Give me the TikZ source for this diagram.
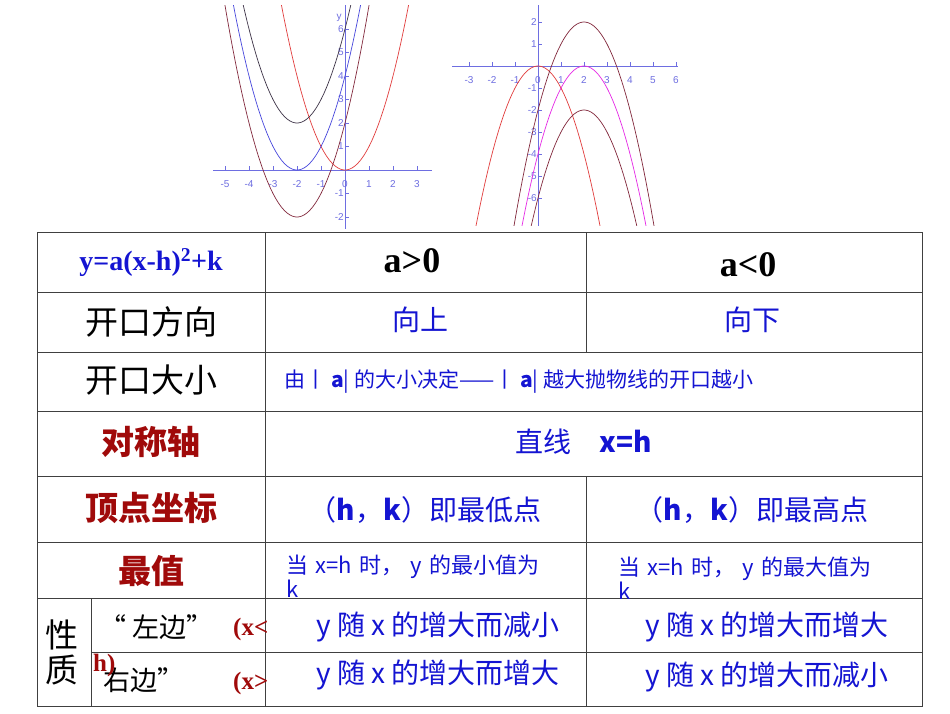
\documentclass[tikz,border=0pt]{standalone}
\usepackage{fontspec}
\setmainfont{Liberation Serif}
\setsansfont{Liberation Sans}
\newfontfamily\cjk{Noto Sans CJK SC}
\definecolor{tb}{RGB}{20,20,210}
\definecolor{dr}{RGB}{160,10,10}
\definecolor{axb}{RGB}{110,110,225}
\definecolor{cr}{RGB}{225,60,60}
\definecolor{cbr}{RGB}{130,40,60}
\definecolor{cbl}{RGB}{70,70,220}
\definecolor{cgr}{RGB}{60,50,70}
\definecolor{cmg}{RGB}{230,40,230}
\tikzset{
 lab/.style={font=\sffamily\fontsize{10}{10}\selectfont,text=axb,inner sep=1pt},
 grid line/.style={draw=black!75,line width=0.8pt},
 blk/.style={font=\cjk\fontsize{33}{35}\selectfont,text=black},
 red/.style={font=\cjk\fontsize{33}{35}\selectfont\bfseries,text=dr},
 blu/.style={font=\cjk\fontsize{28}{30}\selectfont,text=tb},
 sblu/.style={font=\cjk\fontsize{22}{24}\selectfont,text=tb,align=left,anchor=north west,inner sep=0pt},
 hdr/.style={font=\fontsize{36}{38}\selectfont\bfseries,text=black},
 crv/.style={line width=0.7pt}
}
\begin{document}
\begin{tikzpicture}[x=1pt,y=-1pt]
\useasboundingbox (0,0) rectangle (950,713);
\fill[white] (0,0) rectangle (950,713);
% left graph
\begin{scope}
\clip (205,5) rectangle (435,228);
\draw[axb,line width=0.8pt] (213,170) -- (432,170);
\draw[axb,line width=0.8pt] (345,232) -- (345,5);
\foreach \i in {-5,...,3}{\draw[axb] ({345+24*\i},170) -- ({345+24*\i},166);}
\foreach \i in {-5,-4,-3,-2,-1,0,1,2,3}{\node[lab] (lx\i) at ({345+24*\i},184) {\i};}
\foreach \j in {-2,-1,1,2,3,4,5,6}{\draw[axb] (345,{170-23.5*\j}) -- (349,{170-23.5*\j}); \node[lab,anchor=east] (ly\j) at (345,{170-23.5*\j}) {\j};}
\node[lab] (yl) at (339,18) {y};
\draw[cr,crv,domain=-3.5:3.5,samples=60] plot ({345+24*\x},{170-23.5*(\x)^2});
\draw[cbl,crv,domain=-5.5:1.5,samples=60] plot ({345+24*\x},{170-23.5*((\x+2)^2)});
\draw[cgr,crv,domain=-5.5:1.5,samples=60] plot ({345+24*\x},{170-23.5*((\x+2)^2+2)});
\draw[cbr,crv,domain=-5.5:1.5,samples=60] plot ({345+24*\x},{170-23.5*((\x+2)^2-2)});
\end{scope}
% right graph
\begin{scope}
\clip (450,5) rectangle (682,225);
\draw[axb,line width=0.8pt] (452,66) -- (678,66);
\draw[axb,line width=0.8pt] (538,230) -- (538,5);
\foreach \i in {-3,...,6}{\draw[axb] ({538+23*\i},66) -- ({538+23*\i},62);}
\foreach \i in {-3,-2,-1,0,1,2,3,4,5,6}{\node[lab] (rx\i) at ({538+23*\i},80) {\i};}
\foreach \j in {-6,-5,-4,-3,-2,-1,1,2}{\draw[axb] (538,{66-22*\j}) -- (542,{66-22*\j}); \node[lab,anchor=east] (ry\j) at (538,{66-22*\j}) {\j};}
\draw[cr,crv,domain=-3.5:3.5,samples=60] plot ({538+23*\x},{66+22*(\x)^2});
\draw[cmg,crv,domain=-1.5:5.5,samples=60] plot ({538+23*\x},{66+22*((\x-2)^2)});
\draw[cbr,crv,domain=-1.5:5.5,samples=60] plot ({538+23*\x},{66+22*((\x-2)^2-2)});
\draw[cbr,crv,domain=-1.5:5.5,samples=60] plot ({538+23*\x},{66+22*((\x-2)^2+2)});
\end{scope}
% table
\draw[grid line] (37,232) rectangle (922,706);
\foreach \yy in {292,352,411,476,542,598}{\draw[grid line] (37,\yy) -- (922,\yy);}
\draw[grid line] (91,652) -- (922,652);
\draw[grid line] (265,232) -- (265,706);
\draw[grid line] (586,232) -- (586,352);
\draw[grid line] (586,476) -- (586,706);
\draw[grid line] (91,598) -- (91,706);
% texts
\node[font=\fontsize{28}{30}\selectfont\bfseries,text=tb] (h0) at (151,263) {y=a(x-h)\textsuperscript{2}+k};
\node[hdr] (h1) at (412,261) {a>0};
\node[hdr] (h2) at (748,265) {a<0};
\node[blk] (r1) at (151,322) {开口方向};
\node[blu] (r1a) at (420,320) {向上};
\node[blu] (r1b) at (752,320) {向下};
\node[blk] (r2) at (151,380) {开口大小};
\node[font=\cjk\fontsize{21}{23}\selectfont,text=tb,anchor=west] (r2a) at (281,382) {由丨 \textbf{a}| 的大小决定——丨 \textbf{a}| 越大抛物线的开口越小};
\node[red] (r3) at (151,442) {对称轴};
\node[blu] (r3a) at (584,442) {直线\quad\textbf{x=h}};
\node[red] (r4) at (151,508) {顶点坐标};
\node[blu] (r4a) at (425,510) {（\textbf{h}，\textbf{k}）即最低点};
\node[blu] (r4b) at (752,510) {（\textbf{h}，\textbf{k}）即最高点};
\node[red] (r5) at (151,571) {最值};
\node[sblu,text width=270pt] (r5a) at (286,555) {当 x=h 时， y 的最小值为 k};
\node[sblu,text width=280pt] (r5b) at (618,557) {当 x=h 时， y 的最大值为\\k};
\node[blk,align=center] (r6) at (62,652) {性\\质};
\node[blk,anchor=west,font=\cjk\fontsize{27}{29}\selectfont] (r6a) at (96,627) {“ 左边”};
\node[blk,anchor=west,font=\cjk\fontsize{27}{29}\selectfont] (r7a) at (100,680) {右边”};
\node[font=\fontsize{25}{27}\selectfont\bfseries,text=dr,anchor=west,inner sep=0pt] (r6b) at (233,629) {(x<};
\node[font=\fontsize{25}{27}\selectfont\bfseries,text=dr,anchor=west,inner sep=0pt] (r6c) at (93,665) {h)};
\node[font=\fontsize{25}{27}\selectfont\bfseries,text=dr,anchor=west,inner sep=0pt] (r7b) at (233,683) {(x>};
\node[blu] (r6d) at (438,627) {y 随 x 的增大而减小};
\node[blu] (r6e) at (767,627) {y 随 x 的增大而增大};
\node[blu] (r7d) at (438,675) {y 随 x 的增大而增大};
\node[blu] (r7e) at (767,677) {y 随 x 的增大而减小};
\end{tikzpicture}
\end{document}
